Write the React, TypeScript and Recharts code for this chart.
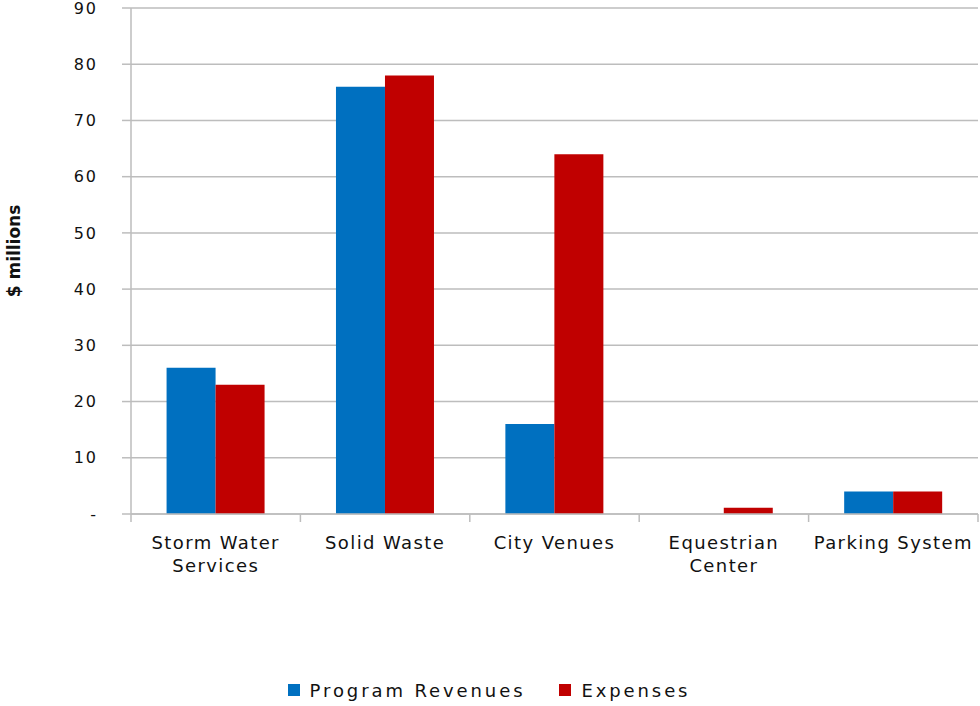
import { BarChart, Bar, XAxis, YAxis, CartesianGrid, Legend } from 'recharts'

const CATEGORIES = [
  'Storm Water\nServices',
  'Solid Waste',
  'City Venues',
  'Equestrian\nCenter',
  'Parking System',
]
const PROGRAM_REVENUES = [26, 76, 16, 0, 4]
const EXPENSES = [23, 78, 64, 1.1, 4]
const Y_TICKS = [0, 10, 20, 30, 40, 50, 60, 70, 80, 90]

const FONT = '"DejaVu Sans", Verdana, sans-serif'
const BLUE = '#0070C0'
const RED = '#C00000'
const GRID = '#bdbdbd'

const data = CATEGORIES.map((name, i) => ({
  name,
  revenues: PROGRAM_REVENUES[i],
  expenses: EXPENSES[i],
}))

function CategoryTick(props: any) {
  const { x, y, payload, index } = props
  const half = payload.offset || 84.7
  const lines = String(payload.value).split('\n')
  return (
    <g>
      <line x1={x - half} x2={x - half} y1={y} y2={y + 8} stroke={GRID} strokeWidth={1.5} />
      {index === CATEGORIES.length - 1 && (
        <line x1={x + half} x2={x + half} y1={y} y2={y + 8} stroke={GRID} strokeWidth={1.5} />
      )}
      <text
        x={x}
        y={y + 35}
        textAnchor="middle"
        fontFamily={FONT}
        fontSize={18}
        letterSpacing={1.4}
        fill="#111"
      >
        {lines.map((l, i) => (
          <tspan key={i} x={x} dy={i === 0 ? 0 : 23}>
            {l}
          </tspan>
        ))}
      </text>
    </g>
  )
}

function LegendContent() {
  const items = [
    { label: 'Program Revenues', color: BLUE },
    { label: 'Expenses', color: RED },
  ]
  return (
    <div
      style={{
        display: 'flex',
        justifyContent: 'center',
        gap: 34,
        fontFamily: FONT,
        fontSize: 18,
        letterSpacing: 2.9,
        color: '#111',
        height: 28,
        alignItems: 'center',
      }}
    >
      {items.map((it) => (
        <span key={it.label} style={{ display: 'flex', alignItems: 'center' }}>
          <span
            style={{
              width: 12,
              height: 12,
              background: it.color,
              display: 'inline-block',
              marginRight: 10,
            }}
          />
          {it.label}
        </span>
      ))}
    </div>
  )
}

export default function App() {
  return (
    <div style={{ position: 'absolute', left: 0, top: 0, background: '#fff' }}>
      <BarChart
        width={980}
        height={706}
        data={data}
        margin={{ top: 8, right: 2, left: 0, bottom: 2 }}
        barCategoryGap="21%"
        barGap={0}
      >
        <CartesianGrid vertical={false} stroke={GRID} strokeWidth={1.5} />
        <XAxis
          dataKey="name"
          interval={0}
          height={162}
          stroke={GRID}
          strokeWidth={1.5}
          tickLine={false}
          tickSize={0}
          tickMargin={0}
          tick={<CategoryTick />}
        />
        <YAxis
          width={131}
          domain={[0, 90]}
          ticks={Y_TICKS}
          interval={0}
          stroke={GRID}
          strokeWidth={1.5}
          tickSize={9}
          tickMargin={24}
          tick={{ fontFamily: FONT, fontSize: 16, fill: '#111', letterSpacing: 2 }}
          tickFormatter={(v: number) => (v === 0 ? '-' : String(v))}
          label={{
            content: (p: any) => {
              const vb = p.viewBox || {}
              const cy = (vb.y ?? 8) + (vb.height ?? 506) / 2 - 10
              return (
                <text
                  x={14}
                  y={cy}
                  transform={`rotate(-90 14 ${cy})`}
                  textAnchor="middle"
                  dominantBaseline="central"
                  fontFamily={FONT}
                  fontSize={17}
                  fontWeight="bold"
                  fill="#111"
                >
                  $ millions
                </text>
              )
            },
          }}
        />
        <Legend verticalAlign="bottom" content={<LegendContent />} />
        <Bar dataKey="revenues" name="Program Revenues" fill={BLUE} isAnimationActive={false} />
        <Bar dataKey="expenses" name="Expenses" fill={RED} isAnimationActive={false} />
      </BarChart>
    </div>
  )
}
